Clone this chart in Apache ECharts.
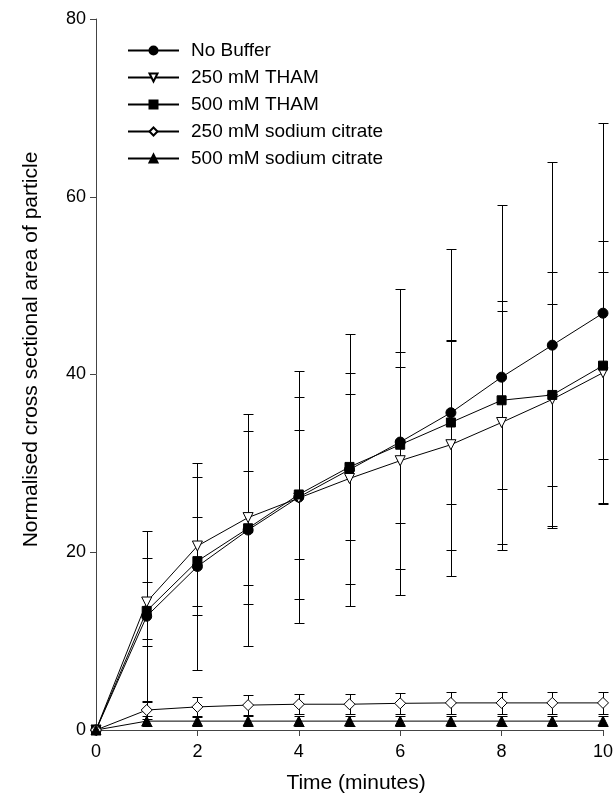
<!DOCTYPE html>
<html>
<head>
<meta charset="utf-8">
<script src="https://cdn.jsdelivr.net/npm/echarts@6/dist/echarts.min.js"></script>
<style>html,body{margin:0;padding:0;background:#fff;}#c{width:614px;height:793px;}</style>
</head>
<body>
<div id="c"></div>
<script>
var time = [0, 1, 2, 3, 4, 5, 6, 7, 8, 9, 10];
var seriesNames = ['No Buffer', '250 mM THAM', '500 mM THAM', '250 mM sodium citrate', '500 mM sodium citrate'];
var noBuffer     = [0, 12.8, 18.4, 22.5, 26.2, 29.3, 32.4, 35.7, 39.7, 43.3, 46.9];
var noBufferSD   = [0, 9.6, 11.6, 13.0, 14.2, 15.3, 17.2, 18.4, 19.4, 20.6, 21.4];
var tham250      = [0, 14.4, 20.7, 23.9, 26.1, 28.3, 30.3, 32.1, 34.6, 37.2, 40.2];
var tham250SD    = [0, 4.9, 7.8, 9.7, 11.4, 11.9, 12.2, 11.8, 13.7, 14.3, 14.8];
var tham500      = [0, 13.4, 19.0, 22.7, 26.5, 29.6, 32.1, 34.6, 37.1, 37.7, 41.0];
var tham500SD    = [0, 3.2, 5.0, 6.4, 7.3, 8.2, 8.8, 9.2, 10.0, 10.2, 10.5];
var citrate250   = [0, 2.25, 2.6, 2.8, 2.9, 2.9, 3.0, 3.05, 3.05, 3.05, 3.05];
var citrate250SD = [0, 1.05, 1.15, 1.1, 1.1, 1.1, 1.15, 1.2, 1.2, 1.25, 1.25];
var citrate500   = [0, 1.0, 1.0, 1.0, 1.0, 1.0, 1.0, 1.0, 1.0, 1.0, 1.0];
var citrate500SD = [0, 0.55, 0.55, 0.55, 0.55, 0.55, 0.55, 0.55, 0.55, 0.55, 0.55];
var xTicks = [0, 2, 4, 6, 8, 10];
var yTicks = [0, 20, 40, 60, 80];

var means = [noBuffer, tham250, tham500, citrate250, citrate500];
var sds = [noBufferSD, tham250SD, tham500SD, citrate250SD, citrate500SD];
var symbols = ['circle', 'triangle', 'rect', 'diamond', 'triangle'];
var rotates = [0, 180, 0, 0, 0];
var sizes = [10, 10, 9, 11, 10];
var fills = ['#000', '#fff', '#000', '#fff', '#000'];

function pairs(arr) { return time.map(function (t, i) { return [t, arr[i]]; }); }
function errData(m, s) {
  var out = [];
  time.forEach(function (t, i) { if (s[i] > 0) out.push([t, m[i] - s[i], m[i] + s[i]]); });
  return out;
}

var series = [];
for (var k = 0; k < 5; k++) {
  series.push({
    type: 'custom',
    name: seriesNames[k] + ' SD',
    data: errData(means[k], sds[k]),
    z: 1,
    silent: true,
    renderItem: function (params, api) {
      var x = api.value(0);
      var lo = api.coord([x, api.value(1)]);
      var hi = api.coord([x, api.value(2)]);
      var px = Math.round(lo[0]) + 0.5;
      var yl = Math.round(lo[1]) + 0.5;
      var yh = Math.round(hi[1]) + 0.5;
      var w = 5;
      var st = { stroke: '#000', lineWidth: 1 };
      return {
        type: 'group',
        children: [
          { type: 'line', shape: { x1: px, y1: yl, x2: px, y2: yh }, style: st },
          { type: 'line', shape: { x1: px - w, y1: yl, x2: px + w, y2: yl }, style: st },
          { type: 'line', shape: { x1: px - w, y1: yh, x2: px + w, y2: yh }, style: st }
        ]
      };
    }
  });
}
for (var j = 0; j < 5; j++) {
  series.push({
    type: 'line',
    name: seriesNames[j],
    data: pairs(means[j]),
    z: 3,
    symbol: symbols[j],
    symbolRotate: rotates[j],
    symbolSize: sizes[j],
    showAllSymbol: true,
    lineStyle: { color: '#000', width: 1 },
    itemStyle: { color: fills[j], borderColor: '#000', borderWidth: 1 },
    emphasis: { disabled: true },
    animation: false
  });
}

var chart = echarts.init(document.getElementById('c'), null, { renderer: 'canvas' });
chart.setOption({
  animation: false,
  backgroundColor: '#fff',
  textStyle: { fontFamily: 'Liberation Sans, Arial, sans-serif' },
  grid: { left: 96, right: 11, top: 19, bottom: 63, containLabel: false, outerBoundsMode: 'none' },
  legend: {
    data: seriesNames,
    orient: 'vertical',
    left: 122,
    top: 36,
    itemWidth: 51,
    itemHeight: 10,
    itemGap: 8,
    textStyle: { fontSize: 19, color: '#000', fontFamily: 'Liberation Sans', padding: [0, 0, 0, 7] },
    selectedMode: false
  },
  xAxis: {
    type: 'value',
    min: xTicks[0],
    max: xTicks[xTicks.length - 1],
    interval: 2,
    name: 'Time (minutes)',
    nameLocation: 'middle',
    nameGap: 43,
    nameTextStyle: { fontSize: 21, color: '#000', fontFamily: 'Liberation Sans', padding: [0, 0, 0, 13] },
    axisLine: { lineStyle: { color: '#444', width: 1 } },
    axisTick: { show: true, length: 6, lineStyle: { color: '#444' } },
    axisLabel: { fontSize: 18, color: '#000', margin: 13, fontFamily: 'Liberation Sans' },
    splitLine: { show: false }
  },
  yAxis: {
    type: 'value',
    min: yTicks[0],
    max: yTicks[yTicks.length - 1],
    interval: 20,
    name: 'Normalised cross sectional area of particle',
    nameLocation: 'middle',
    nameGap: 54,
    nameTextStyle: { fontSize: 21, color: '#000', fontFamily: 'Liberation Sans', padding: [0, 0, 0, 50] },
    axisLine: { show: true, lineStyle: { color: '#444', width: 1 } },
    axisTick: { show: true, length: 6, lineStyle: { color: '#444' } },
    axisLabel: { fontSize: 18, color: '#000', margin: 10, fontFamily: 'Liberation Sans' },
    splitLine: { show: false }
  },
  series: series
});
</script>
</body>
</html>
